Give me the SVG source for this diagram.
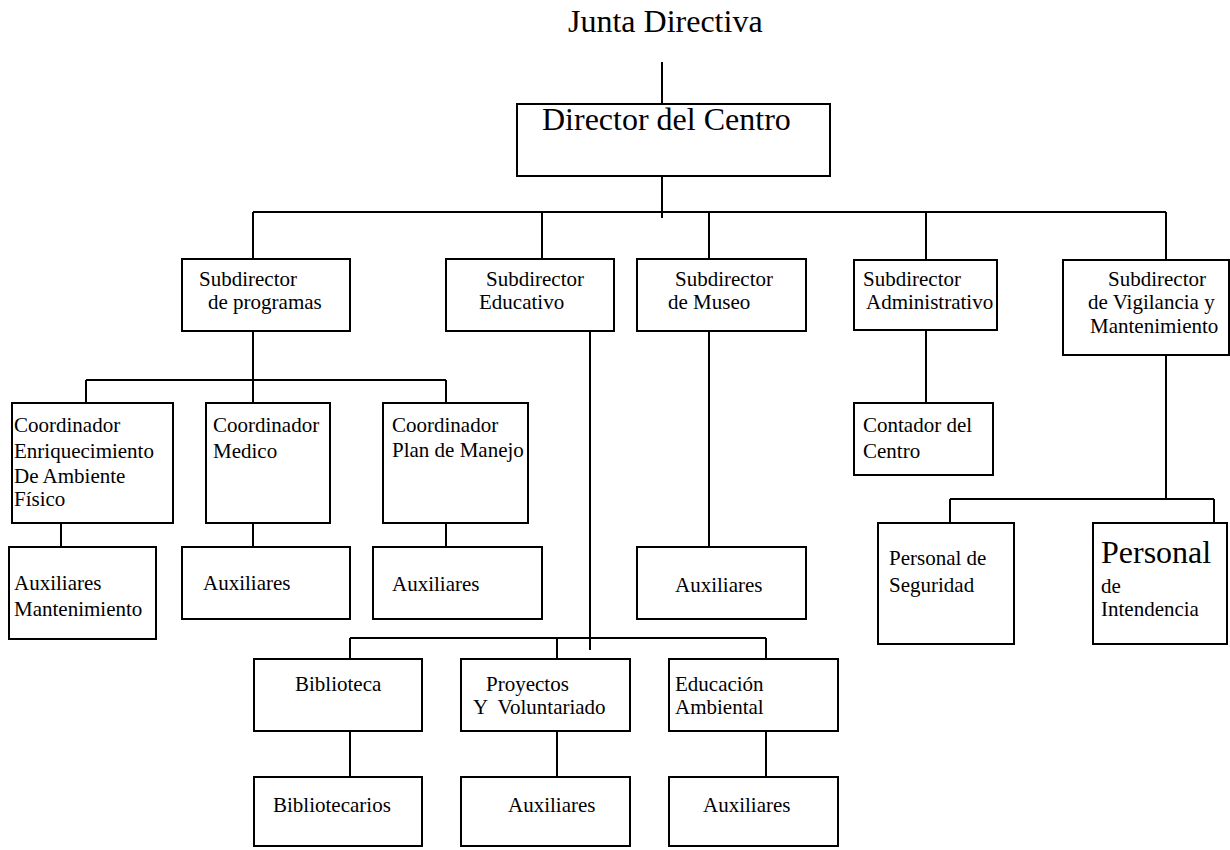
<svg xmlns="http://www.w3.org/2000/svg" width="1230" height="850" viewBox="0 0 1230 850">
<style>
  .box{fill:#fff;stroke:#000;stroke-width:2}
  .ln{stroke:#000;stroke-width:2;fill:none}
  text{font-family:"Liberation Serif","Times New Roman",serif;font-size:21px;fill:#000}
  .big{font-size:32px}
</style>
<rect width="1230" height="850" fill="#fff"/>
<g id="connectors">
  <path class="ln" d="M662 62V108"/>
  <path class="ln" d="M662 169V218"/>
  <path class="ln" d="M253 212H1166"/>
  <path class="ln" d="M253 212V259M542 212V259M709 212V259M926 212V260M1166 212V260"/>
  <path class="ln" d="M253 331V380M86 380H446M86 380V403M253 380V403M446 380V403"/>
  <path class="ln" d="M61 523V549M253 523V547M446 523V547"/>
  <path class="ln" d="M590 324V650M350 638H766M350 638V661M557 638V661M766 638V661"/>
  <path class="ln" d="M350 731V782M557 731V782M766 731V782"/>
  <path class="ln" d="M709 331V547"/>
  <path class="ln" d="M926 330V403"/>
  <path class="ln" d="M1166 355V499M950 499H1214M950 499V523M1214 499V523"/>
</g>
<g id="junta"><text class="big" x="568" y="32">Junta Directiva</text></g>
<g id="director"><rect class="box" x="517" y="104" width="313" height="72"/><text class="big" x="542" y="130">Director del Centro</text></g>
<g id="sub-programas"><rect class="box" x="182" y="259" width="168" height="72"/><text x="199" y="286">Subdirector</text><text x="208" y="309">de programas</text></g>
<g id="sub-educativo"><rect class="box" x="446" y="259" width="168" height="72"/><text x="486" y="286">Subdirector</text><text x="479" y="309">Educativo</text></g>
<g id="sub-museo"><rect class="box" x="637" y="259" width="169" height="72"/><text x="675" y="286">Subdirector</text><text x="668" y="309">de Museo</text></g>
<g id="sub-admin"><rect class="box" x="854" y="260" width="143" height="70"/><text x="863" y="286">Subdirector</text><text x="866" y="309">Administrativo</text></g>
<g id="sub-vigilancia"><rect class="box" x="1063" y="260" width="166" height="95"/><text x="1108" y="286">Subdirector</text><text x="1088" y="309">de Vigilancia y</text><text x="1090" y="333">Mantenimiento</text></g>
<g id="coord-enriq"><rect class="box" x="12" y="403" width="161" height="120"/><text x="14" y="432">Coordinador</text><text x="14" y="458">Enriquecimiento</text><text x="14" y="483">De Ambiente</text><text x="14" y="506">Físico</text></g>
<g id="coord-medico"><rect class="box" x="206" y="403" width="124" height="120"/><text x="213" y="432">Coordinador</text><text x="213" y="458">Medico</text></g>
<g id="coord-plan"><rect class="box" x="383" y="403" width="145" height="120"/><text x="392" y="432">Coordinador</text><text x="392" y="457">Plan de Manejo</text></g>
<g id="aux-mant"><rect class="box" x="9" y="547" width="147" height="92"/><text x="14" y="590">Auxiliares</text><text x="14" y="616">Mantenimiento</text></g>
<g id="aux-medico"><rect class="box" x="182" y="547" width="168" height="72"/><text x="203" y="590">Auxiliares</text></g>
<g id="aux-plan"><rect class="box" x="373" y="547" width="169" height="72"/><text x="392" y="591">Auxiliares</text></g>
<g id="aux-museo"><rect class="box" x="637" y="547" width="169" height="72"/><text x="675" y="592">Auxiliares</text></g>
<g id="contador"><rect class="box" x="854" y="403" width="139" height="72"/><text x="863" y="432">Contador del</text><text x="863" y="458">Centro</text></g>
<g id="seguridad"><rect class="box" x="878" y="523" width="136" height="121"/><text x="889" y="565">Personal de</text><text x="889" y="592">Seguridad</text></g>
<g id="intendencia"><rect class="box" x="1093" y="523" width="134" height="121"/><text class="big" x="1101" y="563">Personal</text><text x="1101" y="593">de</text><text x="1101" y="616">Intendencia</text></g>
<g id="biblioteca"><rect class="box" x="254" y="659" width="168" height="72"/><text x="295" y="691">Biblioteca</text></g>
<g id="proyectos"><rect class="box" x="461" y="659" width="169" height="72"/><text x="486" y="691">Proyectos</text><text x="473" y="714" style="white-space:pre">Y  Voluntariado</text></g>
<g id="educacion"><rect class="box" x="669" y="659" width="169" height="72"/><text x="675" y="691">Educación</text><text x="675" y="714">Ambiental</text></g>
<g id="bibliotecarios"><rect class="box" x="254" y="777" width="168" height="69"/><text x="273" y="812">Bibliotecarios</text></g>
<g id="aux-proyectos"><rect class="box" x="461" y="777" width="169" height="69"/><text x="508" y="812">Auxiliares</text></g>
<g id="aux-educacion"><rect class="box" x="669" y="777" width="169" height="69"/><text x="703" y="812">Auxiliares</text></g>
</svg>
